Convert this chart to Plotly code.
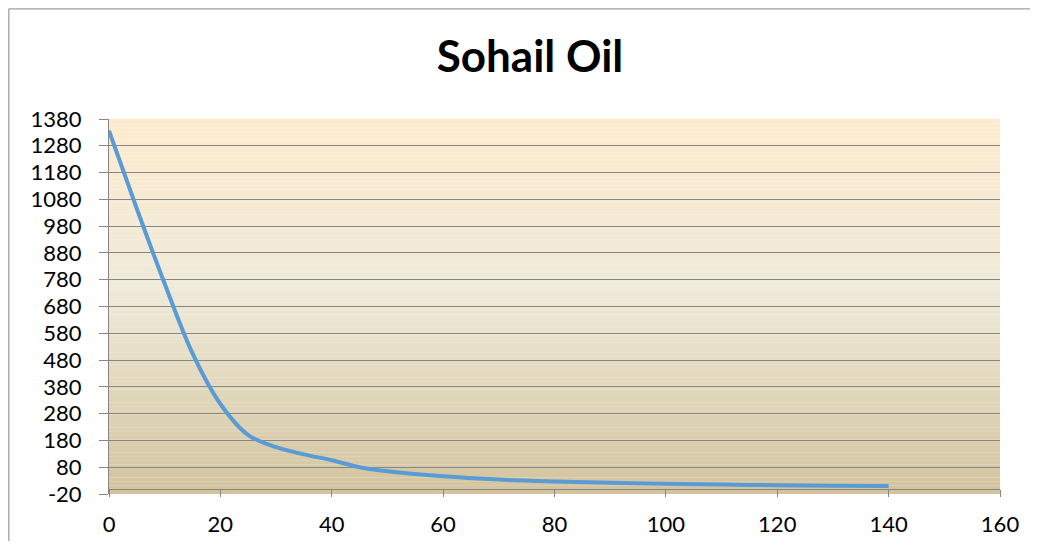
import plotly.graph_objects as go

# ---- data ----
time_x = [0, 5, 10, 15, 20, 25, 30, 35, 40, 45, 50, 60, 70, 80, 90, 100, 110, 120, 130, 140]
oil_y = [1336, 1045, 765, 505, 316, 200, 155, 128, 106, 80, 65, 46, 34, 27, 22, 18, 15, 13, 11, 10]

y_ticks = list(range(-20, 1381, 100))
x_ticks = list(range(0, 161, 20))

TITLE = "Sohail Oil"
FONT = "Lato, 'Open Sans', sans-serif"
GRID = "#868686"

OFF = 8  # page body margin offset
W, H = 1038 - 2 * OFF, 549 - 2 * OFF  # fit the window without scrollbars
# desired screen positions of the plot area
SX0, SX1, SY0, SY1 = 109, 1000, 119, 494
L = SX0 - OFF
R = W - (SX1 - OFF)
T = SY0 - OFF
B = H - (SY1 - OFF)

fig = go.Figure()
fig.add_trace(go.Scatter(
    x=time_x, y=oil_y, mode="lines",
    line=dict(color="#5B9BD5", width=4, shape="spline", smoothing=1.0),
    showlegend=False, hoverinfo="x+y",
))

# gradient plot background as thin strips
def lerp(c1, c2, t):
    return tuple(round(a + (b - a) * t) for a, b in zip(c1, c2))

stops = [(0.0, (253, 235, 206)), (0.45, (239, 234, 217)), (1.0, (211, 196, 158))]
def color_at(f):  # f: 0 top -> 1 bottom
    for (p0, c0), (p1, c1) in zip(stops[:-1], stops[1:]):
        if p0 <= f <= p1:
            return lerp(c0, c1, (f - p0) / (p1 - p0))
    return stops[-1][1]

shapes = []
N = 90
for i in range(N):
    f = (i + 0.5) / N
    c = color_at(f)
    shapes.append(dict(type="rect", xref="paper", yref="paper",
                       x0=0, x1=1, y0=1 - (i + 1) / N, y1=1 - i / N + 0.0005,
                       fillcolor="rgb(%d,%d,%d)" % c, line=dict(width=0),
                       layer="below"))

pw = SX1 - SX0
ph = SY1 - SY0
# outer chart border (left & top visible), given in screen px
bx0, by0 = OFF + 0.8, OFF + 0.8
bx_left = (bx0 - SX0) / pw
by_top = (SY1 - by0) / ph
shapes.append(dict(type="line", xref="paper", yref="paper",
                   x0=bx_left, x1=(W + OFF - SX0) / pw, y0=by_top, y1=by_top,
                   line=dict(color="#A0A0A0", width=1.3), layer="above"))
shapes.append(dict(type="line", xref="paper", yref="paper",
                   x0=bx_left, x1=bx_left, y0=by_top, y1=-(H + OFF - SY1) / ph,
                   line=dict(color="#A0A0A0", width=1.3), layer="above"))

zero_pos = (0 - (-20)) / 1400

fig.update_layout(
    width=W, height=H,
    margin=dict(l=L, r=R, t=T, b=B, autoexpand=False),
    paper_bgcolor="white",
    plot_bgcolor="rgba(0,0,0,0)",
    shapes=shapes,
    title=dict(text="<b>%s</b>" % TITLE, font=dict(family=FONT, size=44, color="black"),
               x=(530 - OFF) / W, xref="container", xanchor="center",
               y=1 - (57 - OFF) / H, yref="container", yanchor="middle"),
    font=dict(family=FONT, size=22, color="black"),
    xaxis=dict(range=[0, 160], tickvals=x_ticks, ticktext=[str(v) for v in x_ticks],
               showgrid=False, zeroline=False,
               showline=True, linecolor=GRID, linewidth=1,
               ticks="outside", ticklen=7, tickcolor=GRID, tickwidth=1,
               anchor="free", position=zero_pos,
               ticklabelstandoff=9,
               tickfont=dict(family=FONT, size=22, color="black")),
    yaxis=dict(range=[-20, 1380], tickvals=y_ticks, ticktext=[str(v) for v in y_ticks],
               showgrid=True, gridcolor=GRID, gridwidth=1, zeroline=False,
               showline=True, linecolor=GRID, linewidth=1,
               ticks="outside", ticklen=9, tickcolor=GRID, tickwidth=1,
               ticklabelstandoff=13,
               tickfont=dict(family=FONT, size=22, color="black")),
)

fig.write_html("out.html")
